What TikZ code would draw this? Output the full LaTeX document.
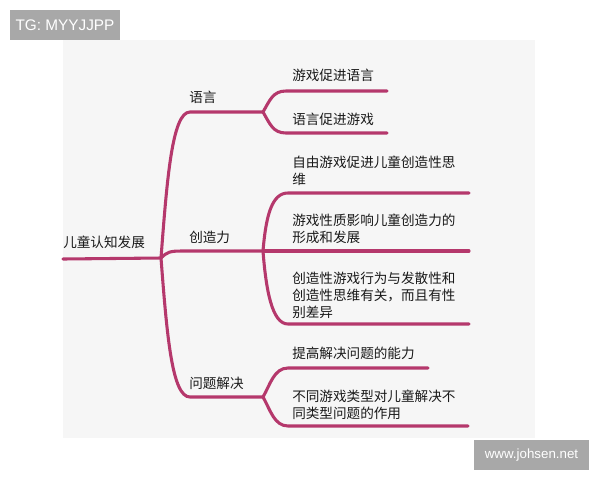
\documentclass[tikz,border=0pt]{standalone}
\usepackage{fontspec}
\setmainfont{Liberation Sans}
\newfontfamily\cjk{Noto Sans CJK SC}
\usetikzlibrary{positioning}
\definecolor{branchred}{HTML}{B5386C}
\definecolor{panelgray}{HTML}{F6F6F6}
\definecolor{stampgray}{HTML}{A8A8A8}

\tikzset{
  branch/.style={draw=branchred, line width=2.3pt, line cap=round},
  topic/.style={font=\cjk\fontsize{10.2}{12.9}\selectfont, text=black!90,
    anchor=west, inner sep=0pt, align=left},
  stamp/.style={fill=stampgray, text=white, font=\fontsize{10}{12}\selectfont,
    minimum height=22.5pt, inner sep=0pt},
}

\begin{document}
\begin{tikzpicture}[x=0.75pt,y=-0.75pt]
  \useasboundingbox (0,0) rectangle (600,480);
  \fill[panelgray] (63,40) rectangle (535,438);

  % corner stamps
  \node[stamp, minimum width=82.5pt, font=\fontsize{11.5}{12}\selectfont] (tg) at (65,25) {TG: MYYJJPP};
  \node[stamp, minimum width=86pt] (site) at (531.5,455) {www.johsen.net};

  % junctions
  \coordinate (start) at (63,259);
  \coordinate (root) at (161,258);
  \coordinate (lang) at (263,112);
  \coordinate (crea) at (263,251);
  \coordinate (prob) at (263,397);

  % free ends of the leaf lines
  \coordinate (langA) at (387,91);
  \coordinate (langB) at (387,133);
  \coordinate (creaA) at (469,193);
  \coordinate (creaB) at (469,251);
  \coordinate (creaC) at (469,324);
  \coordinate (probA) at (428,368);
  \coordinate (probB) at (468,426);

  % topics
  \node[topic] (rootlabel) at (63,242) {儿童认知发展};
  \node[topic] (langlabel) at (189,97) {语言};
  \node[topic] (crealabel) at (189,237) {创造力};
  \node[topic] (problabel) at (189,383) {问题解决};

  % leaves
  \node[topic] (leafA) at (292,75) {游戏促进语言};
  \node[topic] (leafB) at (292,119) {语言促进游戏};
  \node[topic] (leafC) at (292,170.5) {自由游戏促进儿童创造性思\\维};
  \node[topic] (leafD) at (292,229) {游戏性质影响儿童创造力的\\形成和发展};
  \node[topic] (leafE) at (292,295.5) {创造性游戏行为与发散性和\\创造性思维有关，而且有性\\别差异};
  \node[topic] (leafF) at (292,353) {提高解决问题的能力};
  \node[topic] (leafG) at (292,404.5) {不同游戏类型对儿童解决不\\同类型问题的作用};

  % trunk
  \draw[branch] (start) -- (root);
  \draw[branch] (root) .. controls (167,180) and (172,112) .. (190,112) -- (lang);
  \draw[branch] (root) .. controls (167,252) and (170,251) .. (182,251) -- (crea);
  \draw[branch] (root) .. controls (167,336) and (172,397) .. (190,397) -- (prob);

  % forks
  \draw[branch] (lang) .. controls (270,100) and (273,91) .. (286,91) -- (langA);
  \draw[branch] (lang) .. controls (270,124) and (273,133) .. (286,133) -- (langB);

  \draw[branch] (crea) .. controls (266,215) and (272,193) .. (288,193) -- (creaA);
  \draw[branch] (crea) -- (creaB);
  \draw[branch] (crea) .. controls (266,290) and (272,324) .. (288,324) -- (creaC);

  \draw[branch] (prob) .. controls (270,385) and (274,368) .. (288,368) -- (probA);
  \draw[branch] (prob) .. controls (270,409) and (274,426) .. (288,426) -- (probB);

\end{tikzpicture}
\end{document}
